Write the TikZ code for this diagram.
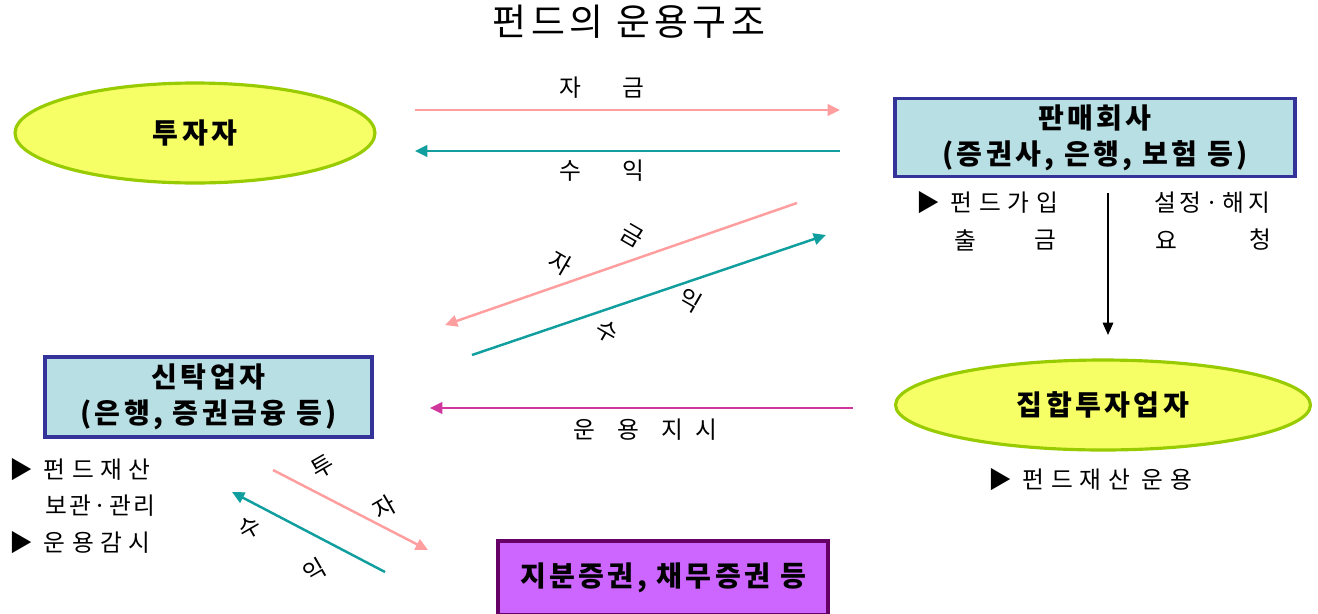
\documentclass[tikz,border=0pt]{standalone}
\usepackage{fontspec}
\setmainfont{Noto Sans CJK KR}
\usetikzlibrary{arrows.meta,shapes.geometric,shadows}
\definecolor{ellfill}{HTML}{F7FF66}
\definecolor{ellborder}{HTML}{99CC00}
\definecolor{boxfill}{HTML}{B8DFE3}
\definecolor{boxborder}{HTML}{333399}
\definecolor{purfill}{HTML}{CC66FF}
\definecolor{purborder}{HTML}{660066}
\definecolor{pinkline}{HTML}{FF9E9E}
\definecolor{tealline}{HTML}{119E9E}
\definecolor{magline}{HTML}{D0379C}
\tikzset{
  lbl/.style={font=\fontsize{13.5}{15}\selectfont, inner sep=0pt},
  biglbl/.style={font=\fontsize{16}{20.5}\selectfont\bfseries\addfontfeature{LetterSpace=12}, align=center},
  ovalnode/.style={ellipse, draw=ellborder, fill=ellfill, line width=1.8pt, biglbl},
  bluebox/.style={rectangle, draw=boxborder, fill=boxfill, line width=1.8pt, biglbl,
     drop shadow={shadow xshift=0.04cm, shadow yshift=-0.04cm, fill=gray!70, opacity=0.6}},
  purbox/.style={rectangle, draw=purborder, fill=purfill, line width=1.8pt, biglbl},
  conn/.style={line width=1.4pt, -{Triangle[length=7pt,width=6.5pt]}},
}
\begin{document}
\begin{tikzpicture}[x=0.02cm,y=-0.02cm]
\clip (0,0) rectangle (1318,613);
\fill[white] (0,0) rectangle (1318,613);

% title
\node[font=\fontsize{21}{25}\selectfont\addfontfeature{LetterSpace=12}] (title) at (629,22) {펀드의 운용구조};

% main nodes
\node[ovalnode, minimum width=7.2cm, minimum height=2.0cm] (inv) at (195,133) {투자자};
\node[bluebox, minimum width=8cm, minimum height=1.5cm] (sell) at (1095,137.5) {판매회사\\(증권사, 은행, 보험 등)};
\node[ovalnode, minimum width=8.3cm, minimum height=1.8cm] (mgr) at (1103,405) {집합투자업자};
\node[bluebox, minimum width=6.54cm, minimum height=1.6cm] (trust) at (208.5,397) {신탁업자\\(은행, 증권금융 등)};
\node[purbox, minimum width=6.6cm, minimum height=1.48cm] (sec) at (663,578) {지분증권, 채무증권 등};

% coordinates for arrow ends
\coordinate (a1s) at (415,110); \coordinate (a1e) at (840,110);
\coordinate (a2s) at (840,151); \coordinate (a2e) at (415,151);
\coordinate (a3s) at (797,203); \coordinate (a3e) at (445,325);
\coordinate (a4s) at (472,355); \coordinate (a4e) at (826,235);
\coordinate (a5s) at (1108,193); \coordinate (a5e) at (1108,335);
\coordinate (a6s) at (853,408); \coordinate (a6e) at (430,408);
\coordinate (a7s) at (273,470); \coordinate (a7e) at (428,550);
\coordinate (a8s) at (385,572); \coordinate (a8e) at (232,492);

\draw[conn, pinkline] (a1s) -- (a1e);
\draw[conn, tealline] (a2s) -- (a2e);
\draw[conn, pinkline] (a3s) -- (a3e);
\draw[conn, tealline] (a4s) -- (a4e);
\draw[line width=0.8pt, -{Triangle[length=7pt,width=6pt]}, black] (a5s) -- (a5e);
\draw[conn, magline] (a6s) -- (a6e);
\draw[conn, pinkline] (a7s) -- (a7e);
\draw[conn, tealline] (a8s) -- (a8e);

% horizontal arrow labels
\node[lbl] (t1) at (570,88) {자};
\node[lbl] (t2) at (633,88) {금};
\node[lbl] (t3) at (570,171) {수};
\node[lbl] (t4) at (633,171) {익};

% upper diagonal labels
\node[lbl, rotate=-30] (d1) at (560,263) {자};
\node[lbl, rotate=-30] (d2) at (632,236) {금};
\node[lbl, rotate=-30] (d3) at (607,332) {수};
\node[lbl, rotate=-30] (d4) at (690,300) {익};

% lower diagonal labels
\node[lbl, rotate=30] (d5) at (323,467) {투};
\node[lbl, rotate=30] (d6) at (385,507) {자};
\node[lbl, rotate=30] (d7) at (250,528) {수};
\node[lbl, rotate=30] (d8) at (315,570) {익};

% magenta label
\node[lbl] (u1) at (584,430) {운};
\node[lbl] (u2) at (628,430) {용};
\node[lbl] (u3) at (672,430) {지};
\node[lbl] (u4) at (706,430) {시};

% right side notes
\node[lbl, anchor=west] (n1) at (916,203) {▶\hspace{6pt}{\addfontfeature{LetterSpace=28}펀드가입}};
\node[lbl] (n2) at (965,240) {출};
\node[lbl] (n3) at (1045,240) {금};
\node[lbl, anchor=west] (n4) at (1154,203) {{\addfontfeature{LetterSpace=16}설정·해지}};
\node[lbl] (n5) at (1166,240) {요};
\node[lbl] (n6) at (1260,240) {청};
\node[lbl, anchor=west] (n7) at (988,480) {▶\hspace{6pt}{\addfontfeature{LetterSpace=28}펀드재산 운용}};

% left side notes
\node[lbl, anchor=west] (m1) at (9,470) {▶\hspace{6pt}{\addfontfeature{LetterSpace=28}펀드재산}};
\node[lbl, anchor=west] (m2) at (45,506) {{\addfontfeature{LetterSpace=10}보관·관리}};
\node[lbl, anchor=west] (m3) at (9,543) {▶\hspace{6pt}{\addfontfeature{LetterSpace=28}운용감시}};
\end{tikzpicture}
\end{document}
